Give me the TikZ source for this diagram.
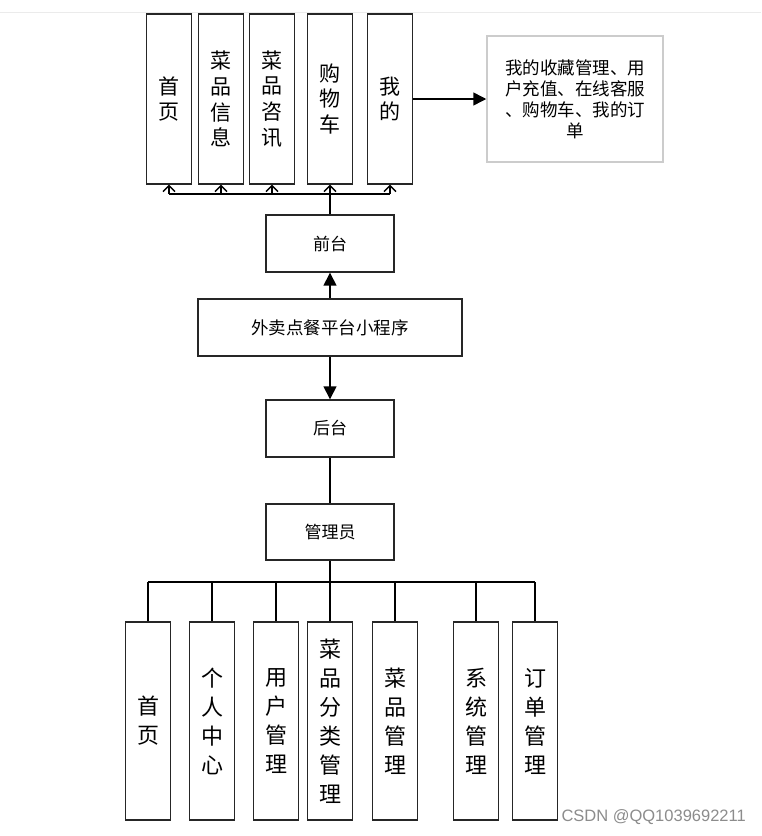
\documentclass[tikz,border=0pt]{standalone}
\usepackage{fontspec}
\newfontfamily\cjk{Noto Sans CJK SC}
\newfontfamily\wm{Liberation Sans}
\usetikzlibrary{arrows.meta}
\tikzset{
  bx/.style={draw=black!85, line width=1.4pt, fill=white, inner sep=0pt, font=\cjk},
  tall/.style={bx, minimum width=45pt, minimum height=170pt, align=center, font=\cjk\fontsize{21}{25.7}\selectfont},
  low/.style={bx, minimum width=45pt, minimum height=198pt, align=center, font=\cjk\fontsize{22}{29}\selectfont},
  mid/.style={bx, minimum height=57pt, font=\cjk\fontsize{17}{20}\selectfont},
  ln/.style={line width=1.5pt, black},
  openarr/.style={ln, -{Straight Barb[length=6pt,width=12pt,line width=1.3pt]}},
  fillarr/.style={ln, -{Triangle[length=13pt,width=13pt]}}
}
\begin{document}
\begin{tikzpicture}[x=1pt,y=-1pt]
\useasboundingbox (0,0) rectangle (761,836);
\fill[white] (0,0) rectangle (761,836);
\draw[black!8, line width=1pt] (0,12) -- (761,12);

% top row
\node[tall] (t1) at (169,99) {首\\页};
\node[tall] (t2) at (221,99) {菜\\品\\信\\息};
\node[tall] (t3) at (272,99) {菜\\品\\咨\\讯};
\node[tall] (t4) at (330,99) {购\\物\\车};
\node[tall] (t5) at (390,99) {我\\的};
\node[draw=black!20, line width=1.5pt, minimum width=176pt, minimum height=126pt, inner sep=0pt,
      align=center, font=\cjk\fontsize{17.5}{21}\selectfont] (info) at (575,99)
      {我的收藏管理、用\\户充值、在线客服\\、购物车、我的订\\单};
\draw[fillarr] (t5.east) -- (info.west);

% middle
\node[mid, minimum width=128pt] (qt) at (330,243.5) {前台};
\node[mid, minimum width=264pt, font=\cjk\fontsize{17.5}{20}\selectfont] (app) at (330,327.5) {外卖点餐平台小程序};
\node[mid, minimum width=128pt] (ht) at (330,428.5) {后台};
\node[mid, minimum width=128pt, minimum height=56pt] (gly) at (330,532) {管理员};

\draw[fillarr] (app.north) -- (qt.south);
\draw[fillarr] (app.south) -- (ht.north);
\draw[ln] (ht.south) -- (gly.north);

% top bus
\coordinate (tb) at (330,194);
\draw[ln] (qt.north) -- (tb);
\draw[ln] (tb -| t1.south) -- (tb -| t5.south);
\foreach \n in {t1,t2,t3,t4,t5}{
  \draw[openarr] (tb -| \n.south) -- (\n.south);
}

% bottom row
\node[low] (b1) at (148,721) {首\\页};
\node[low] (b2) at (212,721) {个\\人\\中\\心};
\node[low] (b3) at (276,721) {用\\户\\管\\理};
\node[low] (b4) at (330,721) {菜\\品\\分\\类\\管\\理};
\node[low] (b5) at (395,721) {菜\\品\\管\\理};
\node[low] (b6) at (476,721) {系\\统\\管\\理};
\node[low] (b7) at (535,721) {订\\单\\管\\理};

\coordinate (bb) at (330,582);
\draw[ln] (gly.south) -- (bb);
\draw[ln] (bb -| b1.north) -- (bb -| b7.north);
\foreach \n in {b1,b2,b3,b4,b5,b6,b7}{
  \draw[ln] (bb -| \n.north) -- (\n.north);
}

\node[font=\wm\fontsize{16.5}{18}\selectfont, text=black!45, anchor=east, inner sep=0pt] (wmk) at (746,817) {CSDN @QQ1039692211};
\end{tikzpicture}
\end{document}
